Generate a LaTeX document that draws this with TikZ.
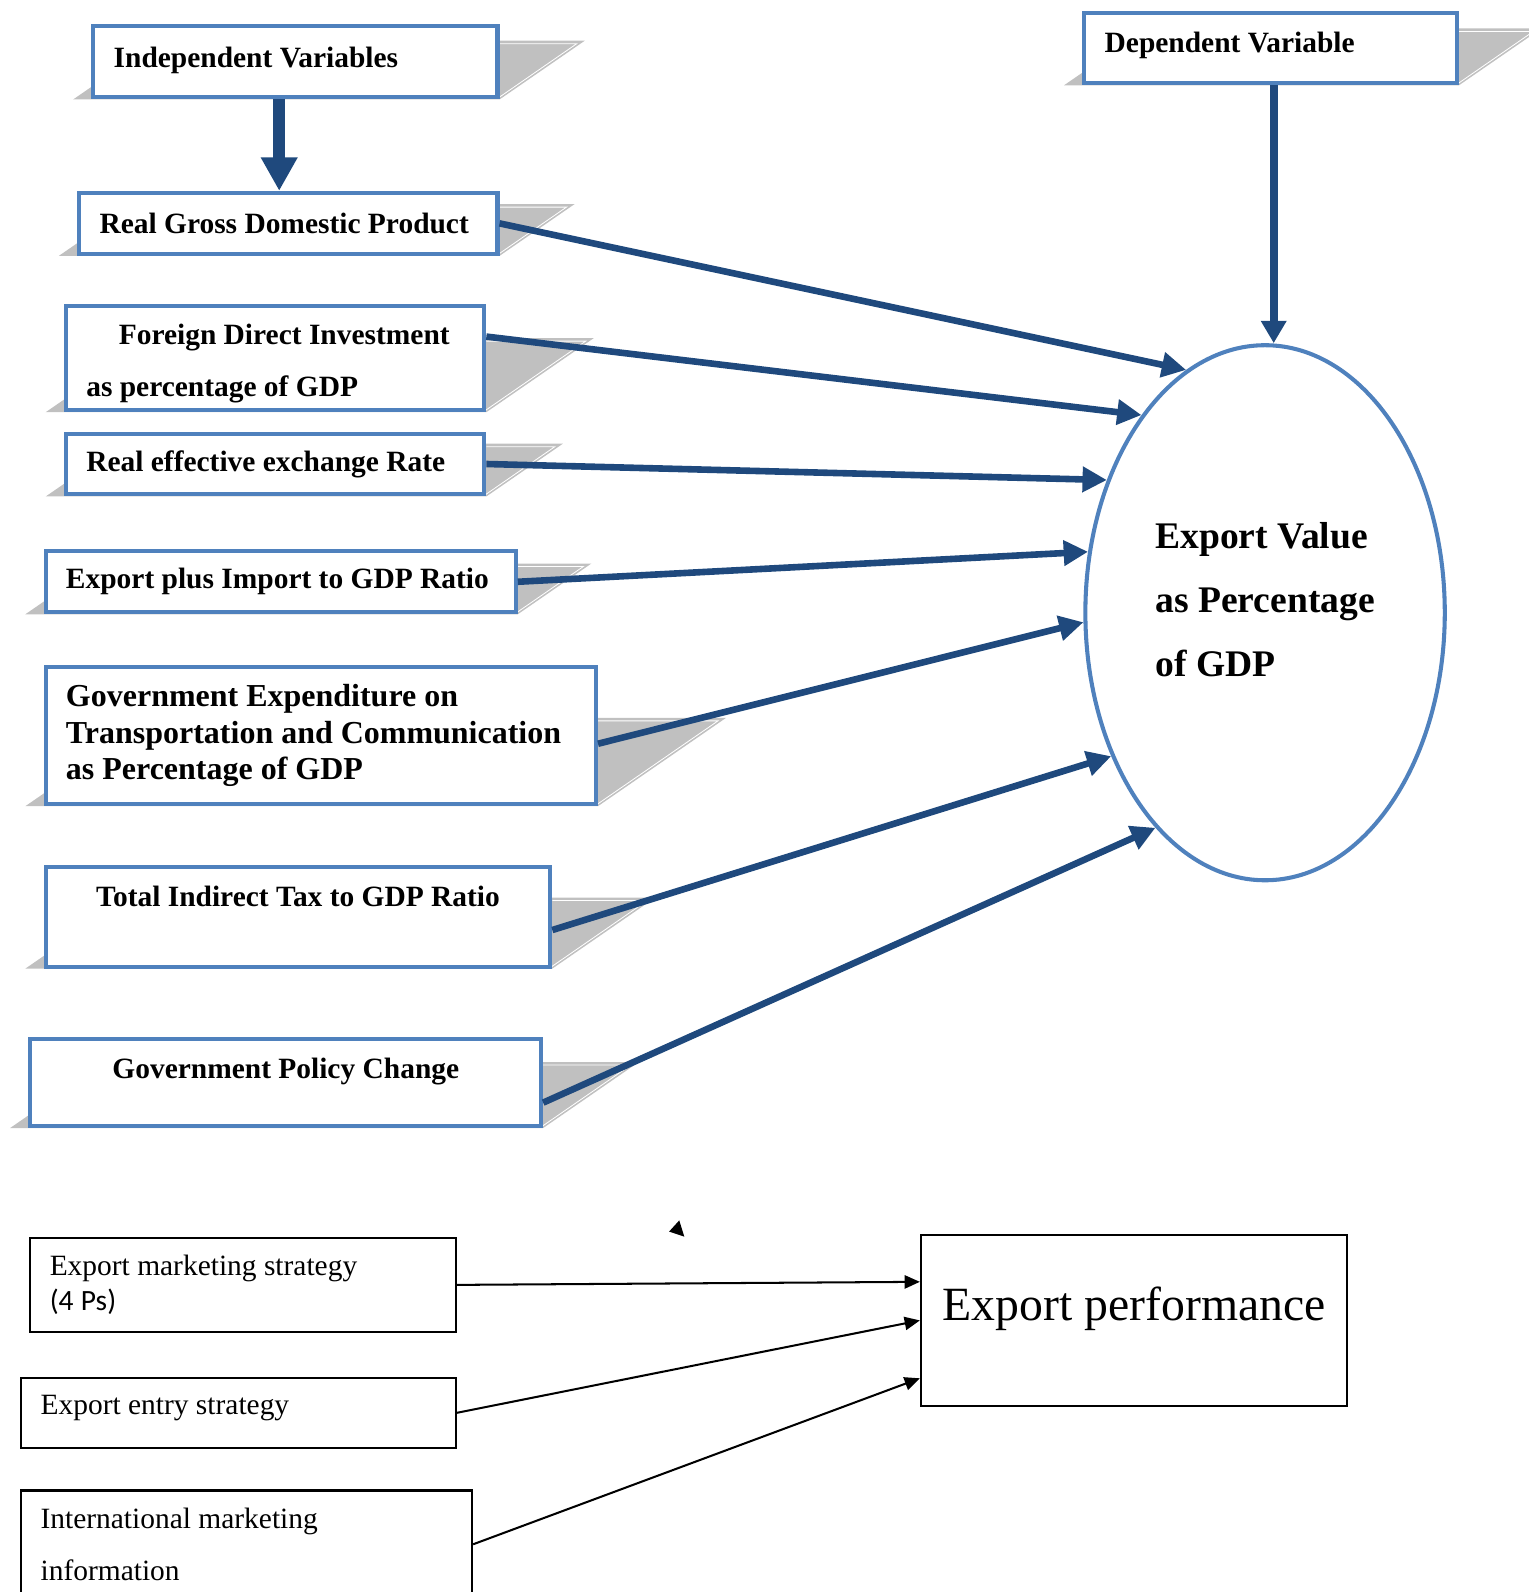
\documentclass[tikz,border=0pt]{standalone}
\usepackage{fontspec}
\setmainfont{Liberation Serif}
\newfontfamily\calibri{Carlito}
\usetikzlibrary{arrows.meta,backgrounds,shapes.geometric}
\definecolor{boxblue}{HTML}{4F81BD}
\definecolor{arrowblue}{HTML}{1F497D}
\definecolor{shadowgray}{HTML}{C0C0C0}

% slanted grey shadow behind a box: node, height of the shadow
\newcommand{\boxshadow}[2]{
  \fill[shadowgray] ([xshift=-18pt]#1.south west) -- (#1.south east)
    -- ([shift={(1.45*#2pt,#2pt)}]#1.south east)
    -- ([shift={(1.45*#2pt-18pt,#2pt)}]#1.south west) -- cycle;
  \draw[white, line width=0.8pt] ([shift={(0pt,#2pt-3pt)}]#1.south east)
    -- ([shift={(1.45*#2pt-8pt,#2pt-3pt)}]#1.south east)
    -- ([shift={(-2pt,1pt)}]#1.south east);
}

\begin{document}
\begin{tikzpicture}[x=1pt, y=-1pt,
    every node/.style={execute at begin node={\spaceskip=\fontdimen2\font\xspaceskip=\fontdimen2\font}},
    varbox/.style={draw=boxblue, line width=4pt, fill=white, inner xsep=20pt,
      align=left, font=\bfseries\fontsize{29}{51}\selectfont},
    plainbox/.style={draw=black, line width=2pt, fill=white, inner xsep=19pt,
      align=left, font=\fontsize{29}{34}\selectfont},
    link/.style={arrowblue, line width=6.5pt, -{Triangle[length=24pt,width=24pt]}},
    plainlink/.style={black, line width=2pt, -{Triangle[length=15pt,width=13pt]}}]
  \useasboundingbox (0,0) rectangle (1505,1568);
  \clip (0,0) rectangle (1505,1568);

  % variables
  \node[varbox, minimum width=398pt, minimum height=70pt, text width=358pt, text depth=10pt] (indep) at (291,61) {Independent Variables};
  \node[varbox, minimum width=412pt, minimum height=60pt, text width=372pt] (rgdp) at (284,220) {Real Gross Domestic Product};
  \node[varbox, minimum width=412pt, minimum height=103pt, text width=372pt, text depth=47pt] (fdi) at (271,352.5)
    {\hspace*{32pt}Foreign Direct Investment\\as percentage of GDP};
  \node[varbox, minimum width=412pt, minimum height=60pt, text width=372pt] (reer) at (271,457) {Real effective exchange Rate};
  \node[varbox, minimum width=463pt, minimum height=60pt, text width=423pt] (epi) at (276.5,573) {Export plus Import to GDP Ratio};
  \node[varbox, minimum width=542pt, minimum height=135pt, text width=502pt, font=\bfseries\fontsize{31.5}{36}\selectfont] (gexp) at (316,724.5)
    {Government Expenditure on\\Transportation and Communication\\as Percentage of GDP};
  \node[varbox, minimum width=497pt, minimum height=98pt, text width=457pt, align=center, text height=20pt, text depth=40pt] (tax) at (293.5,903)
    {Total Indirect Tax to GDP Ratio};
  \node[varbox, minimum width=503pt, minimum height=86pt, text width=463pt, align=center, text height=20pt, text depth=28pt] (pol) at (281.5,1066)
    {Government Policy Change};
  \node[varbox, minimum width=367pt, minimum height=69pt, text width=327pt, text depth=12pt] (dep) at (1251.5,47.5) {Dependent Variable};

  \node[ellipse, draw=boxblue, line width=4pt, fill=white, minimum width=354pt, minimum height=527pt, inner sep=0pt,
    align=left, font=\bfseries\fontsize{37}{63}\selectfont, text depth=26pt] (ev) at (1246,603.5)
    {Export Value\\as Percentage\\of GDP};

  \begin{pgfonlayer}{background}
    \foreach \n/\h in {indep/58, rgdp/51, fdi/73, reer/52, epi/50, gexp/87, tax/70, pol/65, dep/56}
      {\boxshadow{\n}{\h}}
  \end{pgfonlayer}

  \draw[arrowblue, line width=12pt, -{Triangle[length=33pt,width=34pt]}]
    ([xshift=-16pt]indep.south) -- ([xshift=-16pt]indep.south |- rgdp.north);
  \draw[arrowblue, line width=8pt, -{Triangle[length=22pt,width=24pt]}]
    ([xshift=3pt]dep.south) -- ([xshift=3pt]dep.south |- ev.north);

  \draw[link] (rgdp.east) -- (ev.108.8);
  \draw[link] ([yshift=21pt]fdi.east) -- (ev.122.8);
  \draw[link] (reer.east) -- (ev.140.5);
  \draw[link] (epi.east) -- (ev.161.1);
  \draw[link] ([yshift=-8pt]gexp.east) -- (ev.183.7);
  \draw[link] ([yshift=-13pt]tax.east) -- (ev.223.5);
  \draw[link] ([yshift=-20pt]pol.east) -- (ev.243.6);

  % marketing model
  \node[plainbox, minimum width=419pt, minimum height=93pt, text width=381pt] (ems) at (239.5,1265.5)
    {Export marketing strategy\\{\calibri (4 Ps)}};
  \node[plainbox, minimum width=428pt, minimum height=69pt, text width=390pt, text depth=15pt] (ees) at (235,1391.5)
    {Export entry strategy};
  \node[plainbox, minimum width=444pt, minimum height=106pt, text width=406pt, font=\fontsize{29}{51}\selectfont] (imi) at (243,1521)
    {International marketing\\information};
  \node[plainbox, minimum width=420pt, minimum height=169pt, align=center, font=\fontsize{47}{56}\selectfont, text depth=32pt] (ep) at (1117,1300.5)
    {Export performance};

  \draw[plainlink] (ems.east) -- ([yshift=38pt]ep.west);
  \draw[plainlink] (ees.east) -- (ep.west);
  \draw[plainlink] (imi.east) -- ([yshift=-57pt]ep.west);

  \fill (669,1202) -- (659,1213) -- (674,1218) -- cycle;
\end{tikzpicture}
\end{document}
